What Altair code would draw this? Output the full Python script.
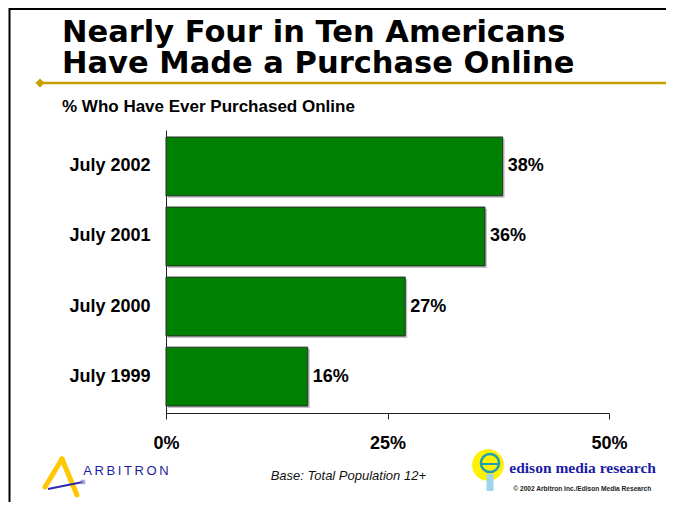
import altair as alt
import pandas as pd

# ---- data ----
categories = ["July 2002", "July 2001", "July 2000", "July 1999"]
values = [38, 36, 27, 16]
value_labels = ["38%", "36%", "27%", "16%"]
x_ticks = [0, 25, 50]

title_lines = ["Nearly Four in Ten Americans", "Have Made a Purchase Online"]
subtitle = "% Who Have Ever Purchased Online"
base_note = "Base: Total Population 12+"
arbitron = "A\u2009R\u2009B\u2009I\u2009T\u2009R\u2009O\u2009N"
edison = "edison media research"
copyright_note = "\u00a9 2002 Arbitron Inc./Edison Media Research"

df = pd.DataFrame({"cat": categories, "val": values, "lab": value_labels})

SANS = "Liberation Sans, Arial, Helvetica, sans-serif"
HEAVY = "DejaVu Sans, Arial, sans-serif"
SERIF = "Liberation Serif, Times New Roman, serif"

W, H = 443, 283

base = alt.Chart(df)

y_enc = alt.Y(
    "cat:N",
    sort=categories,
    scale=alt.Scale(paddingInner=0.16, paddingOuter=0.1),
    axis=alt.Axis(
        title=None,
        ticks=False,
        grid=False,
        labelPadding=16,
        labelFontSize=18,
        labelFontWeight="bold",
        labelColor="#000000",
        labelFont=SANS,
        domainColor="#222222",
        domainWidth=1,
    ),
)
x_enc = alt.X(
    "val:Q",
    scale=alt.Scale(domain=[0, 50], nice=False),
    axis=alt.Axis(
        title=None,
        values=x_ticks,
        labelExpr="datum.value + '%'",
        grid=False,
        tickSize=6,
        tickColor="#222222",
        domainColor="#222222",
        labelPadding=15,
        labelFontSize=18,
        labelFontWeight="bold",
        labelColor="#000000",
        labelFont=SANS,
        labelFlush=False,
    ),
)

shadow = base.mark_bar(
    color="#C4C4C4", xOffset=2, x2Offset=2, yOffset=2, y2Offset=2
).encode(x=x_enc, y=y_enc)

bars = base.mark_bar(
    color="#008000", stroke="#2a2a2a", strokeWidth=1
).encode(x=x_enc, y=y_enc)

labels = base.mark_text(
    align="left", baseline="middle", dx=5, fontSize=18, fontWeight="bold",
    font=SANS, color="#000000"
).encode(x="val:Q", y=alt.Y("cat:N", sort=categories), text="lab:N")


def deco():
    return alt.Chart(alt.Data(values=[{"k": 1}]))


# frame
frame_top = deco().mark_rule(color="#000000", strokeWidth=2).encode(
    x=alt.value(-157), x2=alt.value(500), y=alt.value(-121))
frame_left = deco().mark_rule(color="#000000", strokeWidth=2).encode(
    x=alt.value(-156.5), y=alt.value(-122), y2=alt.value(372))

# gold rule with diamond
gold = "#C6A000"
gold_line = deco().mark_rule(color=gold, strokeWidth=2.5).encode(
    x=alt.value(-126), x2=alt.value(500), y=alt.value(-47))
diamond = deco().mark_point(shape="diamond", filled=True, color=gold, size=85, opacity=1).encode(
    x=alt.value(-126), y=alt.value(-47))

# titles (one two-line text)
title = deco().mark_text(align="left", baseline="alphabetic", font=HEAVY, fontSize=30.5,
                         fontWeight="bold", color="#000000", text=title_lines,
                         lineHeight=31.5).encode(
    x=alt.value(-104), y=alt.value(-88.3))
sub = deco().mark_text(align="left", baseline="alphabetic", font=SANS, fontSize=17,
                       fontWeight="bold", color="#000000", text=subtitle).encode(
    x=alt.value(-104), y=alt.value(-18.3))

# footer
note = deco().mark_text(align="left", baseline="alphabetic", font=SANS, fontSize=13,
                        fontStyle="italic", color="#111111", text=base_note).encode(
    x=alt.value(104.7), y=alt.value(350))

arb_txt = deco().mark_text(align="left", baseline="alphabetic", font=SANS, fontSize=13,
                           color="#1C1C9C", text=arbitron).encode(
    x=alt.value(-82.7), y=alt.value(345))
arb_leg1 = deco().mark_rule(color="#FFC800", strokeWidth=5, strokeCap="round").encode(
    x=alt.value(-121), y=alt.value(357), x2=alt.value(-104), y2=alt.value(329))
arb_leg2 = deco().mark_rule(color="#FFC800", strokeWidth=5, strokeCap="round").encode(
    x=alt.value(-104), y=alt.value(329), x2=alt.value(-89), y2=alt.value(365))
arb_blue = deco().mark_rule(color="#2A2AB0", strokeWidth=2).encode(
    x=alt.value(-118), y=alt.value(359), x2=alt.value(-83), y2=alt.value(352))
arb_sq = deco().mark_point(shape="square", filled=True, color="#8888cc", size=20).encode(
    x=alt.value(-83), y=alt.value(352))

ed_blob = deco().mark_point(shape="circle", filled=True, color="#FFF200", size=1000, opacity=1).encode(
    x=alt.value(322), y=alt.value(335))
ed_bulb = deco().mark_point(shape="circle", filled=False, color="#1E9EB5", strokeWidth=2.5,
                            size=330, opacity=1).encode(
    x=alt.value(324), y=alt.value(333))
ed_bar = deco().mark_rule(color="#1E9EB5", strokeWidth=2).encode(
    x=alt.value(315), x2=alt.value(333), y=alt.value(334))
ed_base = deco().mark_rule(color="#9FD4EE", strokeWidth=7).encode(
    x=alt.value(324), y=alt.value(344), y2=alt.value(361))
ed_txt = deco().mark_text(align="left", baseline="alphabetic", font=SERIF, fontSize=15.5,
                          fontWeight="bold", color="#1B1BA6", text=edison).encode(
    x=alt.value(343.3), y=alt.value(343.3))
copy_txt = deco().mark_text(align="left", baseline="alphabetic", font=SANS, fontSize=6.6,
                            fontWeight="bold", color="#222222", text=copyright_note).encode(
    x=alt.value(347.3), y=alt.value(361))

chart = alt.layer(
    shadow, bars, labels,
    frame_top, frame_left, gold_line, diamond, title, sub,
    note, arb_leg1, arb_leg2, arb_blue, arb_sq, arb_txt,
    ed_blob, ed_bulb, ed_bar, ed_base, ed_txt, copy_txt,
).properties(
    width=W,
    height=H,
    autosize=alt.AutoSizeParams(type="none"),
    padding={"left": 158, "top": 122, "right": 57, "bottom": 89},
    background="#FFFFFF",
).configure(
    font=SANS,
    view=alt.ViewConfig(stroke="transparent", strokeWidth=0),
)

chart.save("out.html", embed_options={"renderer": "svg", "actions": False})
